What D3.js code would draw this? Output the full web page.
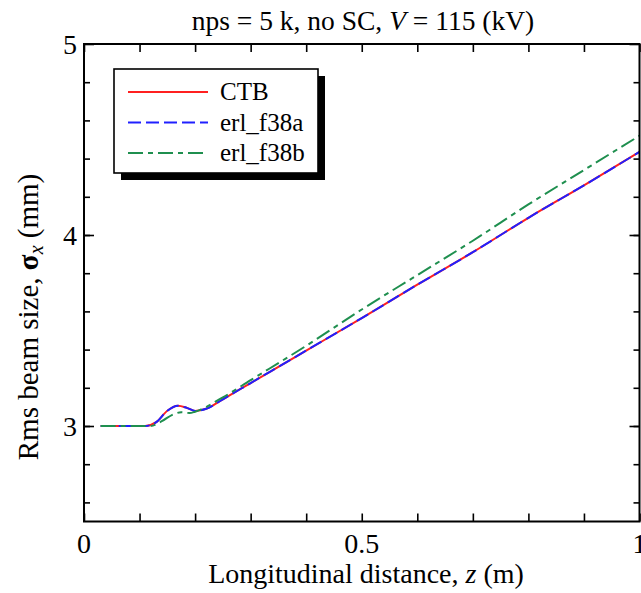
<!DOCTYPE html>
<html><head><meta charset="utf-8">
<script src="https://cdn.jsdelivr.net/npm/d3@7"></script>
<style>body{margin:0;background:#fff}</style>
</head><body>
<script>
const zCTB   = [0.03,0.11,0.13,0.15,0.169,0.185,0.2,0.22,0.25,0.3,0.4,0.5,0.6,0.7,0.8,0.9,1.0];
const sCTB   = [3.0,3.0,3.02,3.08,3.106,3.095,3.079,3.09,3.14,3.225,3.395,3.565,3.74,3.91,4.09,4.26,4.435];
const zF38a  = zCTB;
const sF38a  = [3.0,3.0,3.02,3.08,3.106,3.095,3.079,3.09,3.14,3.225,3.395,3.565,3.74,3.91,4.09,4.26,4.435];
const zF38b  = [0.03,0.12,0.14,0.16,0.175,0.19,0.2,0.25,0.3,0.4,0.5,0.6,0.7,0.8,0.9,1.0];
const sF38b  = [3.0,3.0,3.025,3.06,3.072,3.068,3.075,3.15,3.24,3.42,3.61,3.79,3.97,4.16,4.34,4.52];
const xTicks = [0,0.5,1];
const xTickLabels = ["0","0.5","1"];
const yTicks = [3,4,5];
const seriesNames = ["CTB","erl_f38a","erl_f38b"];
const seriesColors = ["#ff2020","#2020ff","#1f8f4f"];

const FONT="'Liberation Serif', 'Times New Roman', Times, serif";
const W=641,H=593, L=84, R=639.5, T=44, B=521.5;
const svg=d3.select("body").append("svg").attr("width",W).attr("height",H)
  .attr("font-family",FONT).style("font-family",FONT);
const x=d3.scaleLinear().domain([0,1]).range([L,R]);
const y=d3.scaleLinear().domain([2.5,5]).range([B,T]);

svg.append("clipPath").attr("id","c").append("rect").attr("x",L).attr("y",T).attr("width",R-L).attr("height",B-T);

const series=[
  {z:zCTB,s:sCTB,dash:null},
  {z:zF38a,s:sF38a,dash:"13,5"},
  {z:zF38b,s:sF38b,dash:"15,5,5,5"}
];
const line=d3.line().x(d=>x(d[0])).y(d=>y(d[1])).curve(d3.curveMonotoneX);
const g=svg.append("g").attr("clip-path","url(#c)");
series.forEach((sr,i)=>{
  g.append("path").datum(sr.z.map((z,j)=>[z,sr.s[j]]))
    .attr("d",line).attr("fill","none").attr("stroke",seriesColors[i])
    .attr("stroke-width",2).attr("stroke-dasharray",sr.dash);
});

const xMinor=d3.range(0,1.0001,0.1), yMinor=d3.range(2.6,4.9001,0.2);
const ax=svg.append("g");
function tickAxis(axisFn,scale,vals,size,transform){
  ax.append("g").attr("transform",transform)
    .call(axisFn(scale).tickValues(vals).tickSize(size).tickFormat(""))
    .call(s=>{s.select(".domain").remove();s.selectAll("line").attr("stroke","#000").attr("stroke-width",1.6);});
}
tickAxis(d3.axisTop,x,xMinor,8,`translate(0,${B})`);
tickAxis(d3.axisBottom,x,xMinor,8,`translate(0,${T})`);
tickAxis(d3.axisRight,y,yMinor,6,`translate(${L},0)`);
tickAxis(d3.axisLeft,y,yMinor,6,`translate(${R},0)`);
tickAxis(d3.axisRight,y,yTicks,10,`translate(${L},0)`);
tickAxis(d3.axisLeft,y,yTicks,10,`translate(${R},0)`);
svg.append("rect").attr("x",L).attr("y",T).attr("width",R-L).attr("height",B-T)
  .attr("fill","none").attr("stroke","#000").attr("stroke-width",2);

function txt(sel){return sel.append("text").style("font-family",FONT).attr("font-family",FONT);}
xTicks.forEach((v,i)=>txt(svg).attr("x",x(v)).attr("y",B+31).attr("text-anchor","middle")
  .attr("font-size",28).text(xTickLabels[i]));
yTicks.forEach(v=>txt(svg).attr("x",L-7).attr("y",y(v)+10).attr("text-anchor","end")
  .attr("font-size",28).text(v));

const t=txt(svg).attr("x",363).attr("y",30).attr("text-anchor","middle").attr("font-size",27.5);
t.append("tspan").text("nps = 5 k, no SC, ");
t.append("tspan").attr("font-style","italic").text("V");
t.append("tspan").text(" = 115 (kV)");
const xl=txt(svg).attr("x",366).attr("y",583).attr("text-anchor","middle").attr("font-size",28);
xl.append("tspan").text("Longitudinal distance, ");
xl.append("tspan").attr("font-style","italic").text("z");
xl.append("tspan").text(" (m)");
const yl=txt(svg).attr("transform","translate(38,317) rotate(-90)").attr("text-anchor","middle").attr("font-size",29);
yl.append("tspan").text("Rms beam size, ");
yl.append("tspan").attr("font-weight","bold").text("σ");
yl.append("tspan").attr("font-style","italic").attr("font-size",20).attr("dy",5).text("x");
yl.append("tspan").attr("dy",-5).text(" (mm)");

const lx=114, ly=69, lw=204, lh=104;
svg.append("rect").attr("x",lx+7).attr("y",ly+7).attr("width",lw).attr("height",lh).attr("fill","#000");
svg.append("rect").attr("x",lx).attr("y",ly).attr("width",lw).attr("height",lh).attr("fill","#fff").attr("stroke","#000").attr("stroke-width",1.6);
seriesNames.forEach((n,i)=>{
  const yy=ly+23+i*30.5;
  svg.append("line").attr("x1",128).attr("x2",208).attr("y1",yy).attr("y2",yy)
    .attr("stroke",seriesColors[i]).attr("stroke-width",2).attr("stroke-dasharray",series[i].dash);
  txt(svg).attr("x",220).attr("y",yy+8).attr("font-size",25).text(n);
});
</script>
</body></html>
